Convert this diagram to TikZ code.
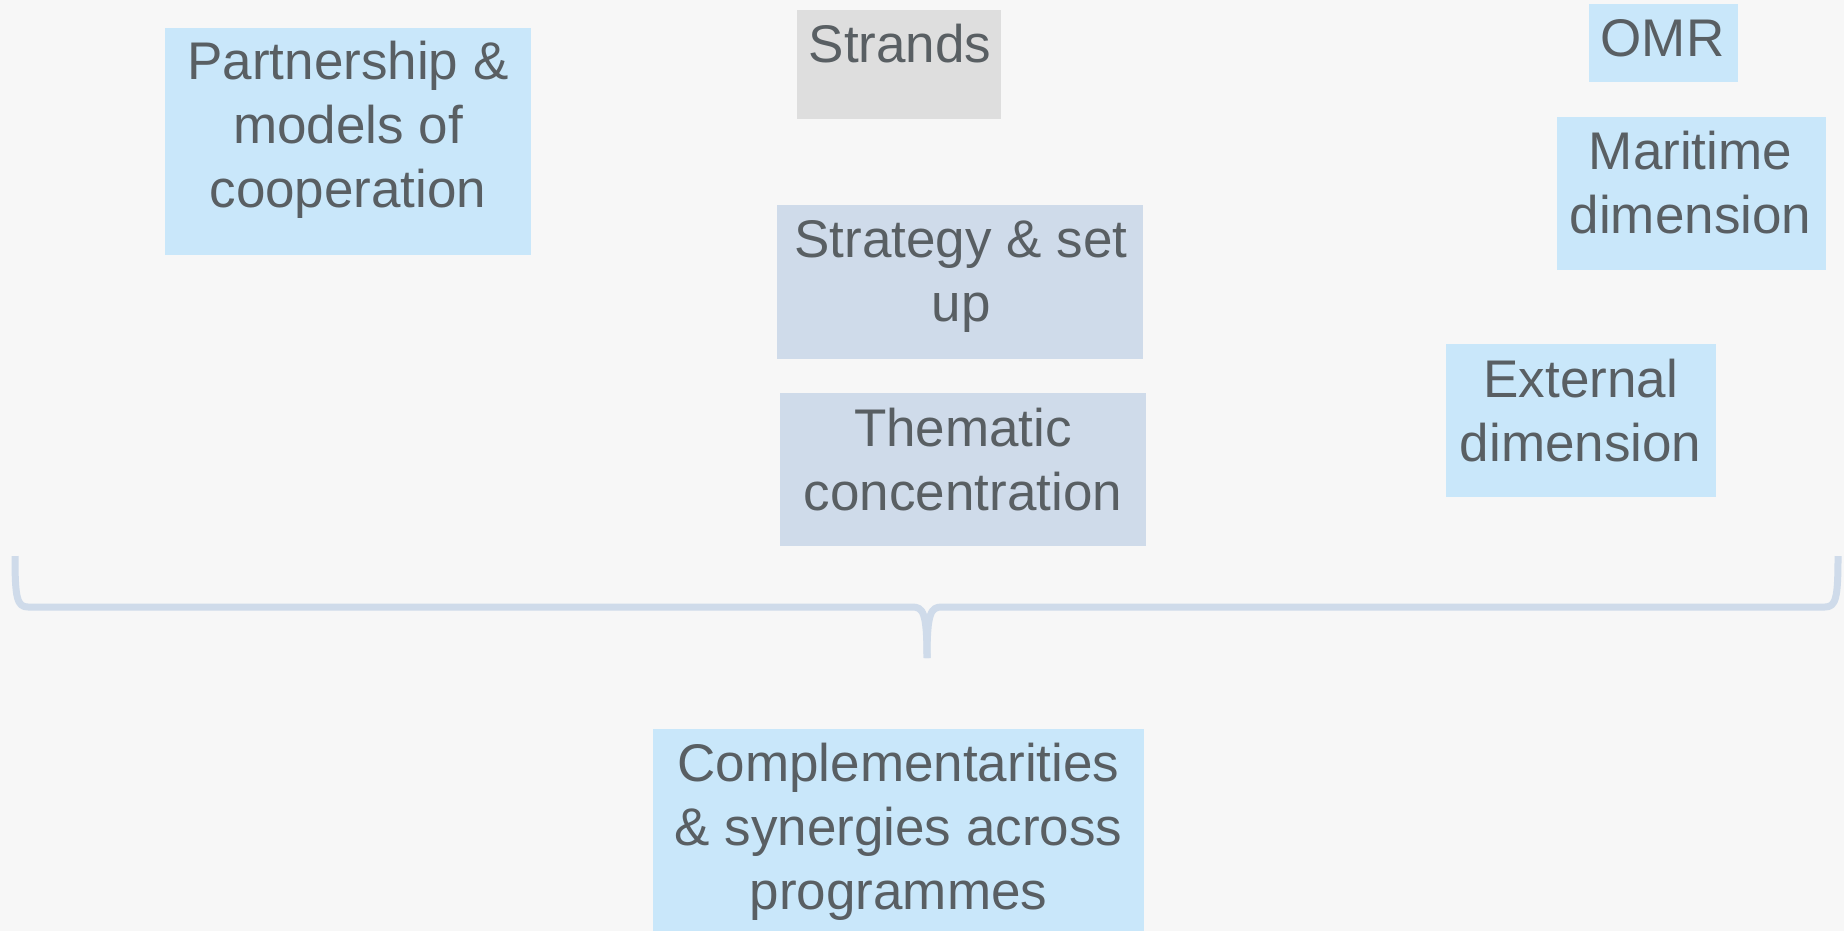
\documentclass[tikz,border=0pt]{standalone}
\usepackage{fontspec}
\setmainfont{Liberation Sans}
\definecolor{bgcol}{HTML}{F7F7F7}
\definecolor{lightblue}{HTML}{C9E7FA}
\definecolor{grayblue}{HTML}{CFDBEA}
\definecolor{lightgray}{HTML}{DEDEDE}
\definecolor{txtcol}{HTML}{595F63}
\definecolor{bracecol}{HTML}{CFDBEA}
\begin{document}
\begin{tikzpicture}[x=1pt,y=-1pt,
  box/.style={rectangle, inner sep=0pt, outer sep=0pt, draw=none},
  bluebox/.style={box, fill=lightblue},
  gbbox/.style={box, fill=grayblue},
  graybox/.style={box, fill=lightgray},
  txt/.style={inner sep=0pt, outer sep=0pt, align=center, anchor=base, text=txtcol,
    font=\fontsize{53}{64}\selectfont},
  brace/.style={draw=bracecol, line width=7pt, line cap=butt, line join=round}]
\useasboundingbox (0,0) rectangle (1844,931);
\fill[bgcol] (0,0) rectangle (1844,931);

% boxes
\node[bluebox, minimum width=366pt, minimum height=227pt] (partBox) at (348,141.5) {};
\node[graybox, minimum width=204pt, minimum height=109pt] (strandsBox) at (899,64.5) {};
\node[bluebox, minimum width=149pt, minimum height=78pt] (omrBox) at (1663.5,43) {};
\node[bluebox, minimum width=269pt, minimum height=153pt] (mariBox) at (1691.5,193.5) {};
\node[gbbox, minimum width=366pt, minimum height=154pt] (stratBox) at (960,282) {};
\node[gbbox, minimum width=366pt, minimum height=153pt] (themBox) at (963,469.5) {};
\node[bluebox, minimum width=270pt, minimum height=153pt] (extBox) at (1581,420.5) {};
\node[bluebox, minimum width=491pt, minimum height=202pt] (compBox) at (898.5,830) {};

% texts (anchor = baseline of last line)
\node[txt] (partText) at (348,207.3) {Partnership \&\\models of\\cooperation};
\node[txt] (strandsText) at (900,62.7) {Strands};
\node[txt] (omrText) at (1662.5,56.7) {OMR};
\node[txt] (mariText) at (1690.5,233.3) {Maritime\\dimension};
\node[txt] (stratText) at (961,321) {Strategy \& set\\up};
\node[txt] (themText) at (963,510) {Thematic\\concentration};
\node[txt] (extText) at (1580.7,461.7) {External\\dimension};
\node[txt] (compText) at (898.5,909.3) {Complementarities\\\& synergies across\\programmes};

% brace
\coordinate (braceL) at (15,556);
\coordinate (braceR) at (1838,556);
\coordinate (braceTip) at (927,658);
\draw[brace] (braceL) .. controls (15,598) and (17,607) .. (28,607)
  -- (912,607) .. controls (923,607) and (927,612) .. (braceTip);
\draw[brace] (braceR) .. controls (1838,598) and (1836,607) .. (1825,607)
  -- (942,607) .. controls (931,607) and (927,612) .. (braceTip);
\end{tikzpicture}
\end{document}
